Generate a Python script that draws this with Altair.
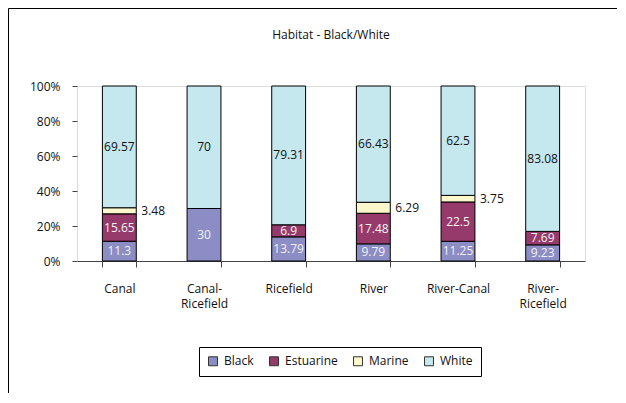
import altair as alt
import pandas as pd

categories = ["Canal", "Canal-Ricefield", "Ricefield", "River", "River-Canal", "River-Ricefield"]
series = ["Black", "Estuarine", "Marine", "White"]
black = [11.3, 30, 13.79, 9.79, 11.25, 9.23]
estuarine = [15.65, 0, 6.9, 17.48, 22.5, 7.69]
marine = [3.48, 0, 0, 6.29, 3.75, 0]
white = [69.57, 70, 79.31, 66.43, 62.5, 83.08]
colors = ["#8C8DC4", "#963A6B", "#FCF8CB", "#C5E8EF"]
y_ticks = [0, 0.2, 0.4, 0.6, 0.8, 1.0]

rows = []
for s_i, (s, vals) in enumerate(zip(series, [black, estuarine, marine, white])):
    for c, v in zip(categories, vals):
        if v > 0:
            rows.append({"habitat": c, "type": s, "value": v, "order": s_i})
df = pd.DataFrame(rows)

W, H = 508, 175
FONT = "Open Sans"

base = alt.Chart(df).transform_stack(
    stack="value", groupby=["habitat"], as_=["y0", "y1"], offset="normalize",
    sort=[alt.SortField("order", order="ascending")]
).transform_calculate(mid="(datum.y0 + datum.y1) / 2")

x = alt.X(
    "habitat:N", sort=categories, title=None,
    scale=alt.Scale(paddingInner=0.6, paddingOuter=0.3),
    axis=alt.Axis(
        labelAngle=0, tickBand="extent", tickSize=6, tickColor="#444",
        domainColor="#444", labelFont=FONT, labelFontSize=12, labelColor="#111",
        labelPadding=16, labelLineHeight=15, labelBaseline="top",
        labelExpr="indexof(datum.label, '-Ricefield') > 0 ? [replace(datum.label, 'Ricefield', ''), 'Ricefield'] : datum.label",
    ),
)
yscale = alt.Scale(domain=[0, 1])
yaxis = alt.Axis(format=".0%", values=y_ticks, tickSize=5, tickColor="#444",
                 domain=False, grid=False, labelFont=FONT, labelFontSize=12,
                 labelColor="#111", labelPadding=12, labelOverlap=False)

bars = base.mark_bar(stroke="black", strokeWidth=1).encode(
    x=x,
    y=alt.Y("y0:Q", scale=yscale, title=None, axis=yaxis),
    y2="y1:Q",
    color=alt.Color("type:N", scale=alt.Scale(domain=series, range=colors),
                    legend=alt.Legend(title=None)),
)

inner = base.transform_filter("datum.type != 'Marine'").mark_text(
    font=FONT, fontSize=12, baseline="middle"
).encode(
    x=x,
    y=alt.Y("mid:Q", scale=yscale, title=None, axis=yaxis),
    text=alt.Text("value:Q"),
    color=alt.condition("datum.type == 'White'", alt.value("#111111"), alt.value("#F2F2F2")),
)

marine_lbl = base.transform_filter("datum.type == 'Marine'").mark_text(
    font=FONT, fontSize=12, baseline="middle", align="left", dx=22, color="#111111"
).encode(
    x=x,
    y=alt.Y("mid:Q", scale=yscale, title=None, axis=yaxis),
    text=alt.Text("value:Q"),
)

one = pd.DataFrame({"a": [0]})
left_border = alt.Chart(one).mark_rule(color="black", strokeWidth=1).encode(
    x=alt.value(-68.5), y=alt.value(-77.5), y2=alt.value(307)
)
top_border = alt.Chart(one).mark_rule(color="black", strokeWidth=1).encode(
    x=alt.value(-68.5), x2=alt.value(540), y=alt.value(-77.5)
)

chart = alt.layer(bars, inner, marine_lbl, left_border, top_border).properties(
    width=W, height=H,
    title=alt.Title("Habitat - Black/White", font=FONT, fontSize=12, fontWeight="normal",
                    color="#111", anchor="middle", offset=-34),
    padding=0,
).configure_view(
    fill="#E6E7E9", stroke="#5A5A5A", strokeWidth=1
).configure(background="white").configure_legend(
    orient="none", legendX=122, legendY=261, direction="horizontal",
    strokeColor="black", fillColor="white", padding=8,
    symbolType="square", symbolSize=80, symbolStrokeColor="#333", symbolStrokeWidth=1,
    labelFont=FONT, labelFontSize=12, labelColor="#111", columnPadding=13, labelOffset=5,
)

chart.save("out.html", embed_options={"renderer": "svg", "actions": False})
